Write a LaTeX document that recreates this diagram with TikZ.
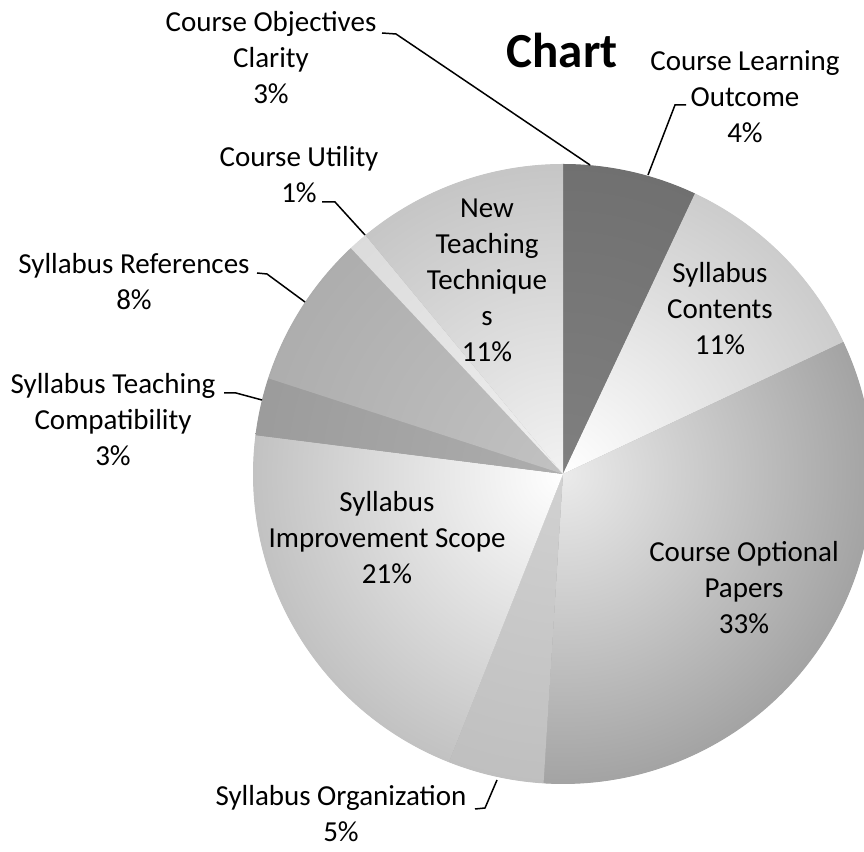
\documentclass[tikz,border=0pt]{standalone}
\usepackage{fontspec}
\setmainfont{Carlito}
\usetikzlibrary{calc}
\tikzset{
  lbl/.style={align=center, inner sep=0pt, font=\fontsize{29}{36}\selectfont},
  ttl/.style={inner sep=0pt, font=\fontsize{49}{54}\selectfont\bfseries},
  leader/.style={draw=black, line width=1.5pt}
}
\newcommand\pieslice[4]{%
  \begin{scope}
    \clip (C) -- ($(C)+(#1:310)$) arc[start angle=#1, end angle=#2, radius=310] -- cycle;
    \shade[inner color=#3, outer color=#4] (C) circle[radius=620];
  \end{scope}}
\begin{document}
\begin{tikzpicture}[x=1pt, y=1pt]
\useasboundingbox (0,0) rectangle (864,851);
\clip (0,0) rectangle (864,851);
\fill[white] (0,0) rectangle (864,851);
\coordinate (C) at (563,377);
\fill[black!35] (C) circle[radius=309.5];
% slices, clockwise from 12 o'clock
\pieslice{90}{64.8}{black!50}{black!62}
\pieslice{64.8}{25.2}{white}{black!40}
\pieslice{25.2}{-93.6}{black!8}{black!64}
\pieslice{-93.6}{-111.6}{black!18}{black!32}
\pieslice{-111.6}{-187.2}{white}{black!48}
\pieslice{-187.2}{-198}{black!32}{black!46}
\pieslice{-198}{-226.8}{black!24}{black!40}
\pieslice{-226.8}{-230.4}{black!6}{black!22}
\pieslice{-230.4}{-270}{black!5}{black!40}
% title
\node[ttl] (title) at (562,801) {Chart};
% outside labels
\node[lbl] (coc) at (271,793) {Course Objectives\\Clarity\\3\%};
\node[lbl] (clo) at (745,754) {Course Learning\\Outcome\\4\%};
\node[lbl] (cu) at (299,676) {Course Utility\\1\%};
\node[lbl] (sr) at (134,569) {Syllabus References\\8\%};
\node[lbl] (stc) at (113,431) {Syllabus Teaching\\Compatibility\\3\%};
\node[lbl] (so) at (341,37) {Syllabus Organization\\5\%};
% inside labels
\node[lbl] (ntt) at (487,571) {New\\Teaching\\Technique\\s\\11\%};
\node[lbl] (sc) at (720,542) {Syllabus\\Contents\\11\%};
\node[lbl] (cop) at (744,263) {Course Optional\\Papers\\33\%};
\node[lbl] (sis) at (387,313) {Syllabus\\Improvement Scope\\21\%};
% leader coordinates
\coordinate (cocA) at (382,818); \coordinate (cocB) at (396,817); \coordinate (cocE) at (590,686);
\coordinate (cloA) at (686,746); \coordinate (cloB) at (675,746); \coordinate (cloE) at (648,676);
\coordinate (cuA) at (322,649);  \coordinate (cuB) at (335,649);  \coordinate (cuE) at (365,616);
\coordinate (srA) at (257,578);  \coordinate (srB) at (267,577);  \coordinate (srE) at (305,549);
\coordinate (stcA) at (224,458); \coordinate (stcB) at (236,458); \coordinate (stcE) at (262,451);
\coordinate (soA) at (475,42);   \coordinate (soB) at (485,43);   \coordinate (soE) at (497,71);
\draw[leader] (cocA) -- (cocB) -- (cocE);
\draw[leader] (cloA) -- (cloB) -- (cloE);
\draw[leader] (cuA) -- (cuB) -- (cuE);
\draw[leader] (srA) -- (srB) -- (srE);
\draw[leader] (stcA) -- (stcB) -- (stcE);
\draw[leader] (soA) -- (soB) -- (soE);
\end{tikzpicture}
\end{document}
